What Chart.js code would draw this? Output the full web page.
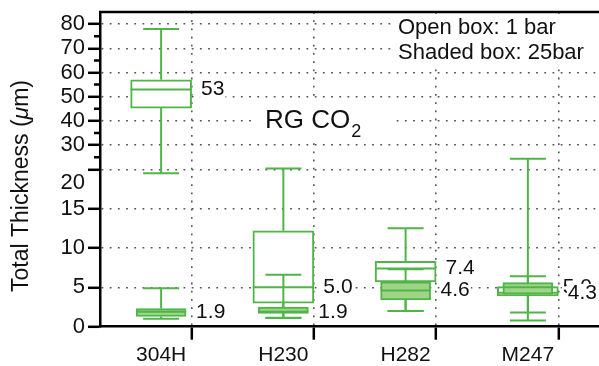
<!DOCTYPE html>
<html>
<head>
<meta charset="utf-8">
<script src="https://cdn.jsdelivr.net/npm/chart.js@4/dist/chart.umd.min.js"></script>
<style>
  html, body { margin: 0; padding: 0; background: #fff; }
  canvas { display: block; }
</style>
</head>
<body>
<canvas id="chart" width="599" height="366"></canvas>
<script>
const categories = ['304H', 'H230', 'H282', 'M247'];

// 1 bar runs (open boxes)
const openMin    = [19.5, 1.1, 2.0, 0.8];
const openQ1     = [45.3, 3.0, 5.7, 3.9];
const openMedian = [53, 5.0, 7.4, 4.3];
const openQ3     = [57, 12.2, 8.3, 5.1];
const openMax    = [78, 20.3, 12.5, 24.4];

// 25 bar runs (shaded boxes)
const shadedMin    = [1.0, 1.15, 2.0, 1.8];
const shadedQ1     = [1.3, 1.7, 3.4, 4.15];
const shadedMedian = [1.9, 1.9, 4.6, 5.0];
const shadedQ3     = [2.3, 2.5, 5.7, 5.6];
const shadedMax    = [4.9, 6.6, 7.3, 6.4];

const majorTicks = [0, 5, 10, 15, 20, 30, 40, 50, 60, 70, 80];
const minorTicks = [25, 35, 45, 55, 65, 75];
const Y_BREAK = 20;   // below this the axis is stretched
const Y_MAX = 85;

const GREEN = '#4fb548';
const SHADE = '#9fd486';
const FONT = "'Liberation Sans', Arial, Helvetica, sans-serif";
const CLEAR = 'rgba(0,0,0,0)';

Chart.defaults.font.family = FONT;
Chart.defaults.color = '#111';

// linear axis split in two: 0..Y_BREAK on the lower half, Y_BREAK..max on the upper half
class BrokenScale extends Chart.LinearScale {
    static id = 'broken';
    static defaults = Chart.LinearScale.defaults;

    toDecimal(v) {
        if (v <= Y_BREAK) return (v - this.min) / (Y_BREAK - this.min) * 0.5;
        return 0.5 + (v - Y_BREAK) / (this.max - Y_BREAK) * 0.5;
    }
    getPixelForValue(value) {
        if (value === null || value === undefined) return NaN;
        return this.getPixelForDecimal(this.toDecimal(value));
    }
    getValueForPixel(pixel) {
        const d = this.getDecimalForPixel(pixel);
        if (d <= 0.5) return this.min + d * 2 * (Y_BREAK - this.min);
        return Y_BREAK + (d - 0.5) * 2 * (this.max - Y_BREAK);
    }
}
Chart.register(BrokenScale);

const groups = [
    { min: openMin, q1: openQ1, med: openMedian, q3: openQ3, max: openMax, width: 61, labelDx: 40 },
    { min: shadedMin, q1: shadedQ1, med: shadedMedian, q3: shadedQ3, max: shadedMax, width: 50, labelDx: 35 }
];

const fmt = v => v >= 10 ? v.toFixed(0) : v.toFixed(1);
const tickVal = c => (c.tick ? c.tick.value : null);

function drawTextBg(ctx, text, x, y) {
    const w = ctx.measureText(text).width;
    ctx.fillStyle = '#fff';
    ctx.fillRect(x - 1, y - 9, w + 2, 18);
    ctx.fillStyle = '#111';
    ctx.fillText(text, x, y);
}

const boxParts = {
    id: 'boxParts',
    // whiskers go under the box of the same series
    beforeDatasetDraw(chart, args) {
        const g = groups[args.index];
        const { ctx, scales: { x, y } } = chart;
        ctx.save();
        ctx.strokeStyle = GREEN;
        ctx.lineWidth = 2;
        categories.forEach((c, i) => {
            const cx = x.getPixelForValue(i);
            ctx.beginPath();
            ctx.moveTo(cx, y.getPixelForValue(g.q3[i]));
            ctx.lineTo(cx, y.getPixelForValue(g.max[i]));
            ctx.moveTo(cx, y.getPixelForValue(g.q1[i]));
            ctx.lineTo(cx, y.getPixelForValue(g.min[i]));
            [g.max[i], g.min[i]].forEach(v => {
                const py = y.getPixelForValue(v);
                ctx.moveTo(cx - 18, py);
                ctx.lineTo(cx + 18, py);
            });
            ctx.stroke();
        });
        ctx.restore();
    },
    afterDatasetDraw(chart, args) {
        const g = groups[args.index];
        const { ctx, scales: { x, y } } = chart;
        ctx.save();
        ctx.strokeStyle = GREEN;
        ctx.lineWidth = 2;
        categories.forEach((c, i) => {
            const cx = x.getPixelForValue(i);
            const py = y.getPixelForValue(g.med[i]);
            ctx.beginPath();
            ctx.moveTo(cx - g.width / 2, py);
            ctx.lineTo(cx + g.width / 2, py);
            ctx.stroke();
        });
        ctx.restore();
    },
    afterDatasetsDraw(chart) {
        const { ctx, scales: { x, y } } = chart;
        ctx.save();
        ctx.font = '21px ' + FONT;
        ctx.textBaseline = 'middle';
        ctx.textAlign = 'left';
        // shaded labels first so the open ones sit on top
        [groups[1], groups[0]].forEach(g => {
            categories.forEach((c, i) => {
                drawTextBg(ctx, fmt(g.med[i]), x.getPixelForValue(i) + g.labelDx, y.getPixelForValue(g.med[i]));
            });
        });

        // pressure key
        ctx.fillStyle = '#fff';
        ctx.fillRect(392, 14, 207, 50);
        ctx.fillStyle = '#111';
        ctx.font = '22px ' + FONT;
        ctx.fillText('Open box: 1 bar', 398, 28);
        ctx.fillText('Shaded box: 25bar', 398, 53);

        // gas label
        ctx.fillStyle = '#fff';
        ctx.fillRect(254, 100, 138, 42);
        ctx.fillStyle = '#111';
        ctx.font = '26px ' + FONT;
        ctx.fillText('RG CO', 265, 121);
        const w = ctx.measureText('RG CO').width;
        ctx.font = '18px ' + FONT;
        ctx.fillText('2', 265 + w + 1, 132);
        ctx.restore();
    },
    afterDraw(chart) {
        const { ctx, chartArea: a, scales: { y } } = chart;
        ctx.save();
        ctx.strokeStyle = '#000';
        ctx.lineWidth = 2.5;
        ctx.beginPath();
        ctx.moveTo(a.left - 1, a.top);
        ctx.lineTo(a.right, a.top);
        minorTicks.forEach(v => {
            const py = y.getPixelForValue(v);
            ctx.moveTo(a.left - 6, py);
            ctx.lineTo(a.left, py);
        });
        ctx.stroke();

        // axis title with italic mu
        ctx.translate(22, 186);
        ctx.rotate(-Math.PI / 2);
        ctx.textBaseline = 'middle';
        ctx.textAlign = 'left';
        ctx.fillStyle = '#111';
        const parts = [['Total Thickness (', ''], ['\u03bc', 'italic '], ['m)', '']];
        let total = 0;
        parts.forEach(p => { ctx.font = p[1] + '23px ' + FONT; total += ctx.measureText(p[0]).width; });
        let tx = -total / 2;
        parts.forEach(p => {
            ctx.font = p[1] + '23px ' + FONT;
            ctx.fillText(p[0], tx, 0);
            tx += ctx.measureText(p[0]).width;
        });
        ctx.restore();
    }
};

const dotted = [1.8, 6.4];

new Chart(document.getElementById('chart'), {
    type: 'bar',
    data: {
        datasets: [
            {
                label: '1 bar',
                data: categories.map((c, i) => ({ x: i, y: [openQ1[i], openQ3[i]] })),
                backgroundColor: '#fff',
                borderColor: GREEN,
                borderWidth: 2,
                borderSkipped: false,
                barThickness: 61,
                grouped: false,
                order: 2
            },
            {
                label: '25 bar',
                data: categories.map((c, i) => ({ x: i, y: [shadedQ1[i], shadedQ3[i]] })),
                backgroundColor: SHADE,
                borderColor: GREEN,
                borderWidth: 2,
                borderSkipped: false,
                barThickness: 50,
                grouped: false,
                order: 1
            }
        ]
    },
    options: {
        responsive: false,
        animation: false,
        events: [],
        layout: { padding: { top: 12, left: 0, right: 0, bottom: 0 } },
        plugins: {
            legend: { display: false },
            tooltip: { enabled: false }
        },
        scales: {
            x: {
                type: 'linear',
                min: -0.5,
                max: 3.582,
                offset: false,
                afterBuildTicks: s => {
                    s.ticks = [-0.5, 0, 0.5, 1, 1.5, 2, 2.5, 3, 3.5].map(v => ({ value: v }));
                },
                afterFit: s => {
                    s.height = 39.3;
                    s.paddingLeft = 0;
                    s.paddingRight = 0;
                },
                ticks: {
                    autoSkip: false,
                    maxRotation: 0,
                    padding: 3,
                    font: { size: 21 },
                    callback: v => Number.isInteger(v) ? categories[v] : ''
                },
                grid: {
                    color: c => {
                        const v = tickVal(c);
                        return (v === null || Number.isInteger(v) || v === -0.5) ? CLEAR : '#555';
                    },
                    lineWidth: 1.6,
                    tickColor: c => {
                        const v = tickVal(c);
                        return (v === null || Number.isInteger(v)) ? CLEAR : '#000';
                    },
                    tickWidth: 2.5,
                    tickLength: 13
                },
                border: { color: '#000', width: 2.5, dash: dotted }
            },
            y: {
                type: 'broken',
                min: 0,
                max: Y_MAX,
                afterBuildTicks: s => {
                    s.ticks = majorTicks.map(v => ({ value: v }));
                },
                afterFit: s => {
                    s.width = 100;
                    s.paddingTop = 0;
                    s.paddingBottom = 0;
                },
                ticks: {
                    autoSkip: false,
                    padding: 3,
                    font: { size: 22 },
                    // the 20 label sits just under its tick
                    callback: v => v === Y_BREAK ? ['', String(v)] : String(v)
                },
                grid: {
                    color: c => {
                        const v = tickVal(c);
                        return (v === null || v === 0) ? CLEAR : '#555';
                    },
                    lineWidth: 1.6,
                    tickColor: '#000',
                    tickWidth: 2.5,
                    tickLength: 12
                },
                border: { color: '#000', width: 2.5, dash: dotted }
            }
        }
    },
    plugins: [boxParts]
});
</script>
</body>
</html>
